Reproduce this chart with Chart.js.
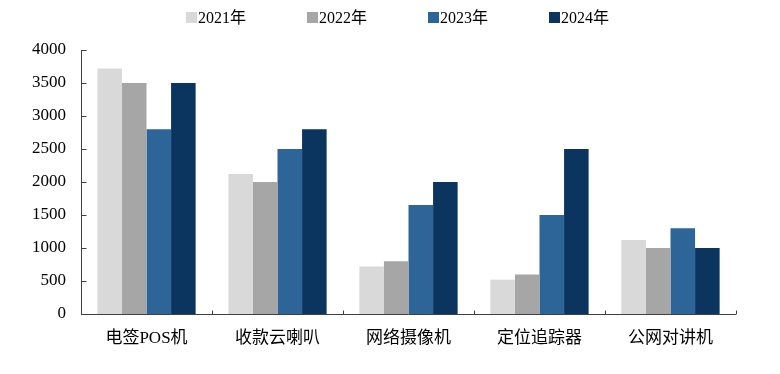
<!DOCTYPE html>
<html>
<head>
<meta charset="utf-8">
<script src="https://cdn.jsdelivr.net/npm/chart.js@4/dist/chart.umd.min.js"></script>
<style>
html,body{margin:0;padding:0;background:#fff;}
#wrap{width:780px;height:374px;position:relative;}
</style>
</head>
<body>
<div id="wrap"><canvas id="c" width="780" height="374"></canvas></div>
<script>
const categories = ['电签POS机', '收款云喇叭', '网络摄像机', '定位追踪器', '公网对讲机'];
const seriesNames = ['2021年', '2022年', '2023年', '2024年'];
const values2021 = [3720, 2120, 720, 520, 1120];
const values2022 = [3500, 2000, 800, 600, 1000];
const values2023 = [2800, 2500, 1650, 1500, 1300];
const values2024 = [3500, 2800, 2000, 2500, 1000];
const yTicks = [0, 500, 1000, 1500, 2000, 2500, 3000, 3500, 4000];
const colors = ['#d9d9d9', '#a6a6a6', '#2e6599', '#0b355f'];

const FONT = '"Liberation Serif", "Times New Roman", "Noto Sans CJK SC", serif';
const AXIS = '#404040';

const innerTicks = {
  id: 'innerTicks',
  afterDatasetsDraw(chart) {
    const ctx = chart.ctx;
    const x = chart.scales.x, y = chart.scales.y;
    ctx.save();
    ctx.strokeStyle = AXIS;
    ctx.lineWidth = 1;
    ctx.beginPath();
    const lx = Math.round(x.left) + 0.5;
    const by = Math.round(y.bottom) + 0.5;
    ctx.moveTo(lx, y.top);
    ctx.lineTo(lx, by);
    ctx.lineTo(x.right, by);
    y.ticks.forEach((t, i) => {
      const py = Math.round(y.getPixelForTick(i)) + 0.5;
      ctx.moveTo(lx, py);
      ctx.lineTo(lx + 5, py);
    });
    const half = (x.getPixelForValue(1) - x.getPixelForValue(0)) / 2;
    for (let i = 0; i <= categories.length; i++) {
      const px = Math.round(x.getPixelForValue(0) - half + i * 2 * half) + 0.5;
      ctx.moveTo(px, by);
      ctx.lineTo(px, by - 4);
    }
    ctx.stroke();
    ctx.restore();
  }
};

const topLegend = {
  id: 'topLegend',
  afterDraw(chart) {
    const ctx = chart.ctx;
    ctx.save();
    ctx.font = '16px ' + FONT;
    ctx.textBaseline = 'middle';
    ctx.textAlign = 'left';
    const startX = 186, step = 121, cy = 17.5, box = 11;
    chart.data.datasets.forEach((ds, i) => {
      const bx = startX + i * step;
      ctx.fillStyle = ds.backgroundColor;
      ctx.fillRect(bx, cy - box / 2, box, box);
      ctx.fillStyle = '#000';
      ctx.fillText(ds.label, bx + box + 1, cy + 1);
    });
    ctx.restore();
  }
};

new Chart(document.getElementById('c'), {
  type: 'bar',
  data: {
    labels: categories,
    datasets: [values2021, values2022, values2023, values2024].map((v, i) => ({
      label: seriesNames[i],
      data: v,
      backgroundColor: colors[i],
      borderWidth: 0,
      categoryPercentage: 0.75,
      barPercentage: 1.0
    }))
  },
  options: {
    responsive: false,
    animation: false,
    layout: { padding: { left: 0, right: 44, top: 50, bottom: 0 } },
    plugins: {
      legend: { display: false },
      tooltip: { enabled: false }
    },
    scales: {
      x: {
        grid: { display: false, drawTicks: false },
        border: { display: false },
        ticks: { color: '#000', font: { family: FONT, size: 17 }, padding: 14 },
        afterFit(s) { s.height = 60; }
      },
      y: {
        min: 0, max: 4000,
        afterBuildTicks(s) { s.ticks = yTicks.map(v => ({ value: v })); },
        grid: { display: false, drawTicks: false },
        border: { display: false },
        ticks: {
          color: '#000',
          font: { family: FONT, size: 17 },
          padding: 15,
          callback: (v) => String(v)
        },
        afterFit(s) { s.width = 81; }
      }
    }
  },
  plugins: [innerTicks, topLegend]
});
</script>
</body>
</html>
